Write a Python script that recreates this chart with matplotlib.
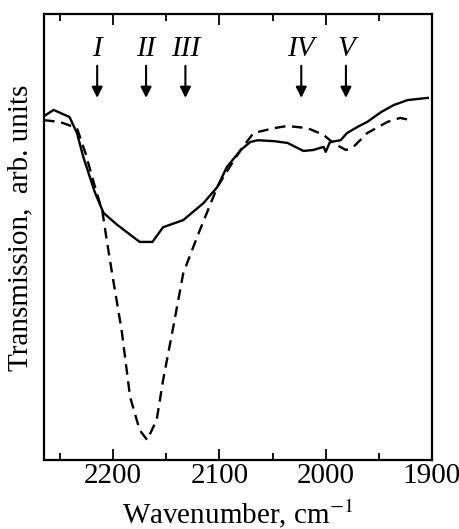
import matplotlib
matplotlib.use("Agg")
import matplotlib.pyplot as plt
from matplotlib.ticker import MultipleLocator

plt.rcParams["font.family"] = ["Liberation Serif", "DejaVu Serif"]
plt.rcParams["mathtext.fontset"] = "stix"

# solid spectrum (wavenumber, transmission in arb. units)
solid_wn = [2265, 2256, 2241, 2234, 2228, 2217, 2209, 2196, 2175, 2163, 2153,
            2134, 2115, 2102, 2093, 2080, 2071, 2064, 2049, 2036, 2021, 2012,
            2002, 2000, 1996, 1986, 1980, 1970, 1961, 1948, 1936, 1923, 1904]
solid_t = [0.771, 0.785, 0.769, 0.733, 0.679, 0.599, 0.554, 0.527, 0.489, 0.489,
           0.522, 0.538, 0.576, 0.612, 0.657, 0.695, 0.713, 0.717, 0.715, 0.711,
           0.693, 0.695, 0.702, 0.691, 0.713, 0.717, 0.733, 0.747, 0.758, 0.780,
           0.796, 0.807, 0.812]

# dashed spectrum
dash_wn = [2265, 2250, 2234, 2226, 2217, 2210, 2206, 2201, 2192, 2184, 2175,
           2168, 2159, 2153, 2144, 2134, 2121, 2102, 2088, 2078, 2068, 2049,
           2036, 2017, 2002, 1993, 1981, 1974, 1961, 1942, 1930, 1920]
dash_t = [0.762, 0.758, 0.744, 0.688, 0.612, 0.556, 0.493, 0.419, 0.291, 0.141,
          0.067, 0.045, 0.090, 0.179, 0.291, 0.419, 0.500, 0.612, 0.666, 0.702,
          0.733, 0.744, 0.749, 0.744, 0.729, 0.711, 0.695, 0.702, 0.733, 0.758,
          0.767, 0.762]

# marked bands
band_labels = ["I", "II", "III", "IV", "V"]
band_wn = [2215, 2169, 2132, 2023, 1981]

fig = plt.figure(figsize=(4.6, 5.29), dpi=100)
ax = fig.add_axes([0.0957, 0.1304, 0.8435, 0.8431])

ax.plot(solid_wn, solid_t, color="black", lw=1.7)
ax.plot(dash_wn, dash_t, color="black", lw=1.7, ls=(0, (4.5, 2.8)))

for lab, wn in zip(band_labels, band_wn):
    ax.annotate("", xy=(wn, 0.812), xytext=(wn, 0.884),
                arrowprops=dict(arrowstyle="-|>", color="black", lw=1.5,
                                mutation_scale=16, shrinkA=0, shrinkB=0))
    ax.text(wn, 0.922, lab, ha="center", va="center", style="italic",
            fontsize=21)

ax.set_xlim(2265, 1900)
ax.set_ylim(0, 1)
ax.xaxis.set_major_locator(MultipleLocator(100))
ax.xaxis.set_minor_locator(MultipleLocator(50))
ax.tick_params(axis="x", which="both", direction="in", top=True, labelsize=21,
               pad=2)
ax.tick_params(axis="x", which="major", length=8, width=1.3)
ax.tick_params(axis="x", which="minor", length=5, width=1.3)
ax.set_yticks([])
for s in ax.spines.values():
    s.set_linewidth(1.6)

ax.set_xlabel("Wavenumber, cm$^{-1}$", fontsize=21, labelpad=6)
ax.set_ylabel("Transmission,  arb. units", fontsize=21)
ax.yaxis.set_label_coords(-0.028, 0.52)

fig.savefig("out.png", dpi=100)
